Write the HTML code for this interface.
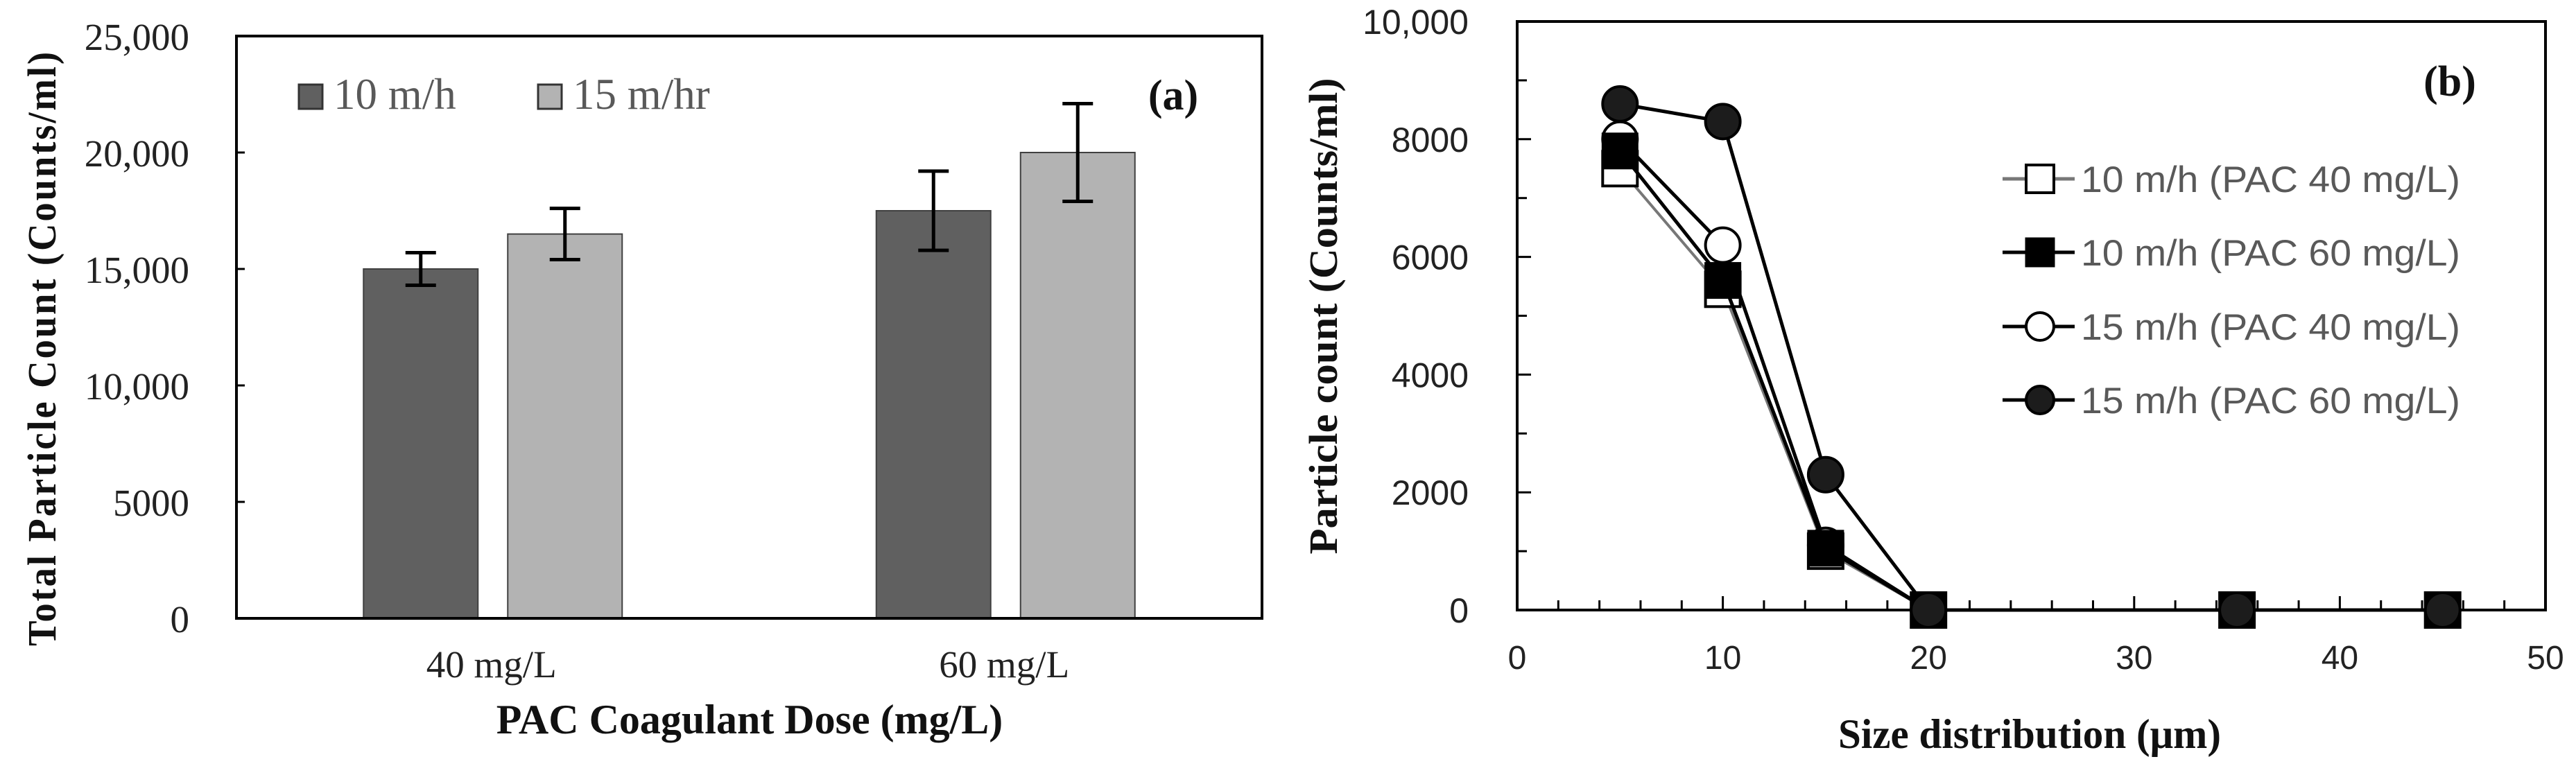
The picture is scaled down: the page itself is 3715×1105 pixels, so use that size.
<!DOCTYPE html>
<html><head><meta charset="utf-8"><style>
html,body{margin:0;padding:0;background:#fff;}
svg{display:block;}
</style></head><body>
<svg id="fig" width="3715" height="1105" viewBox="0 0 3715 1105" xmlns="http://www.w3.org/2000/svg">
<rect width="3715" height="1105" fill="#fff"/>
<g id="chartA"></g>
<g id="chartB"></g>
</svg>
<script>
// ---- Chart (a) data ----
const catsA = ["40 mg/L", "60 mg/L"];
const seriesNamesA = ["10 m/h", "15 m/hr"];
const vals10 = [15000, 17500];
const vals15 = [16500, 20000];
const err10 = [700, 1700];
const err15 = [1100, 2100];
const yTicksA = [0, 5000, 10000, 15000, 20000, 25000];
const yTickLabelsA = ["0", "5000", "10,000", "15,000", "20,000", "25,000"];

// ---- Chart (b) data ----
const xB = [5, 10, 15, 20, 35, 45];
const s1040 = [7500, 5450, 1000, 0, 0, 0];
const s1060 = [7800, 5600, 1050, 0, 0, 0];
const s1540 = [8000, 6200, 1100, 0, 0, 0];
const s1560 = [8600, 8300, 2300, 0, 0, 0];
const seriesNamesB = ["10 m/h (PAC 40 mg/L)", "10 m/h (PAC 60 mg/L)", "15 m/h (PAC 40 mg/L)", "15 m/h (PAC 60 mg/L)"];
const xTicksB = [0, 10, 20, 30, 40, 50];
const yTicksB = [0, 2000, 4000, 6000, 8000, 10000];
const yTickLabelsB = ["0", "2000", "4000", "6000", "8000", "10,000"];

const NS = "http://www.w3.org/2000/svg";
function mk(parent, tag, attrs, text) {
  const e = document.createElementNS(NS, tag);
  for (const k in attrs) e.setAttribute(k, attrs[k]);
  if (text !== undefined) e.textContent = text;
  parent.appendChild(e);
  return e;
}

// ===== Chart A =====
(function () {
  const g = document.getElementById("chartA");
  const L = 341, R = 1820, T = 52, B = 892;
  const y = v => B - v / 25000 * (B - T);
  const xc = i => L + (R - L) * (i + 0.5) / catsA.length;
  const serif = '"Liberation Serif", serif';
  // bars
  const bw = 165, off = 104;
  const colors = ["#606060", "#b3b3b3"];
  const data = [vals10, vals15], errs = [err10, err15];
  for (let s = 0; s < 2; s++) {
    for (let i = 0; i < catsA.length; i++) {
      const cx = xc(i) + (s === 0 ? -off : off);
      const v = data[s][i];
      const r = mk(g, "rect", {x: cx - bw / 2, y: y(v), width: bw, height: B - y(v), fill: colors[s], stroke: "#404040", "stroke-width": 2});
      
      
    }
  }
  // error bars
  for (let s = 0; s < 2; s++) {
    for (let i = 0; i < catsA.length; i++) {
      const cx = xc(i) + (s === 0 ? -off : off);
      const v = data[s][i], e = errs[s][i];
      const eg = mk(g, "g", {stroke: "#000", "stroke-width": 5, fill: "none"});
      
      
      mk(eg, "line", {x1: cx, x2: cx, y1: y(v + e), y2: y(v - e)});
      mk(eg, "line", {x1: cx - 22, x2: cx + 22, y1: y(v + e), y2: y(v + e)});
      mk(eg, "line", {x1: cx - 22, x2: cx + 22, y1: y(v - e), y2: y(v - e)});
    }
  }
  // frame
  const fr = mk(g, "rect", {x: L, y: T, width: R - L, height: B - T, fill: "none", stroke: "#000", "stroke-width": 4});
  
  
  // y ticks
  for (let i = 0; i < yTicksA.length; i++) {
    const yy = y(yTicksA[i]);
    mk(g, "line", {x1: L, x2: L + 12, y1: yy, y2: yy, stroke: "#000", "stroke-width": 3});
    const t = mk(g, "text", {x: 273, y: yy + 20, "text-anchor": "end", "font-family": serif, "font-size": 55, fill: "#222"}, yTickLabelsA[i]);
    
    
  }
  // x labels
  for (let i = 0; i < catsA.length; i++) {
    const t = mk(g, "text", {x: xc(i) - 2, y: 977, "text-anchor": "middle", "font-family": serif, "font-size": 55, fill: "#222"}, catsA[i]);
    
    
  }
  // titles
  const xt = mk(g, "text", {x: 1081, y: 1058, "text-anchor": "middle", "font-family": serif, "font-size": 60, "font-weight": "bold", fill: "#111"}, "PAC Coagulant Dose (mg/L)");
  
  
  const yt = mk(g, "text", {x: 0, y: 0, transform: "translate(80,502) rotate(-90)", "text-anchor": "middle", "font-family": serif, "font-size": 58, "font-weight": "bold", fill: "#111", textLength: 860, lengthAdjust: "spacingAndGlyphs", "letter-spacing": 3}, "Total Particle Count (Counts/ml)");
  
  
  // legend
  const lx = [431, 776];
  for (let s = 0; s < 2; s++) {
    const lg = mk(g, "g", {});
    
    
    mk(lg, "rect", {x: lx[s], y: 122, width: 34, height: 35, fill: colors[s], stroke: "#333", "stroke-width": 3});
    mk(lg, "text", {x: lx[s] + 50, y: 157, "font-family": serif, "font-size": 63, fill: "#595959"}, seriesNamesA[s]);
  }
  const pa = mk(g, "text", {x: 1692, y: 158, "text-anchor": "middle", "font-family": serif, "font-size": 62, "font-weight": "bold", fill: "#111"}, "(a)");
  
  
})();

// ===== Chart B =====
(function () {
  const g = document.getElementById("chartB");
  const L = 2188, R = 3671, T = 31, B = 880;
  const x = v => L + v / 50 * (R - L);
  const y = v => B - v / 10000 * (B - T);
  const sans = '"Liberation Sans", sans-serif';
  const serif = '"Liberation Serif", serif';
  const fr = mk(g, "rect", {x: L, y: T, width: R - L, height: B - T, fill: "none", stroke: "#000", "stroke-width": 4});
  
  
  // minor/major ticks
  for (let v = 0; v <= 10000; v += 1000) {
    const major = v % 2000 === 0;
    mk(g, "line", {x1: L, x2: L + (major ? 20 : 14), y1: y(v), y2: y(v), stroke: "#000", "stroke-width": 3});
  }
  for (let v = 2; v < 50; v += 2) {
    const major = v % 10 === 0;
    mk(g, "line", {x1: x(v), x2: x(v), y1: B, y2: B - (major ? 20 : 14), stroke: "#000", "stroke-width": 3});
  }
  for (let i = 0; i < yTicksB.length; i++) {
    const t = mk(g, "text", {x: 2118, y: y(yTicksB[i]) + 18, "text-anchor": "end", "font-family": sans, "font-size": 50, fill: "#222"}, yTickLabelsB[i]);
    
    
  }
  for (let i = 0; i < xTicksB.length; i++) {
    const t = mk(g, "text", {x: x(xTicksB[i]), y: 965, "text-anchor": "middle", "font-family": sans, "font-size": 48, fill: "#222"}, String(xTicksB[i]));
    
    
  }
  const series = [s1040, s1540, s1060, s1560];
  const names = [seriesNamesB[0], seriesNamesB[2], seriesNamesB[1], seriesNamesB[3]];
  const kinds = ["osq", "oci", "fsq", "fci"];
  const lineCol = {osq: "#777", oci: "#000", fsq: "#000", fci: "#000"};
  function marker(parent, kind, cx, cy, r) {
    if (kind === "osq") return mk(parent, "rect", {x: cx - r, y: cy - r, width: 2 * r, height: 2 * r, fill: "#fff", stroke: "#000", "stroke-width": 4});
    if (kind === "fsq") return mk(parent, "rect", {x: cx - r, y: cy - r, width: 2 * r, height: 2 * r, fill: "#000", stroke: "#000", "stroke-width": 3});
    if (kind === "oci") return mk(parent, "circle", {cx: cx, cy: cy, r: r, fill: "#fff", stroke: "#000", "stroke-width": 4});
    return mk(parent, "circle", {cx: cx, cy: cy, r: r, fill: "#1c1c1c", stroke: "#000", "stroke-width": 4});
  }
  for (let s = 0; s < series.length; s++) {
    const sg = mk(g, "g", {});
    
    
    const pts = xB.map((v, i) => x(v) + "," + y(series[s][i])).join(" ");
    const pl = mk(sg, "polyline", {points: pts, fill: "none", stroke: lineCol[kinds[s]], "stroke-width": kinds[s] === "osq" ? 4 : 5});
    
    
    for (let i = 0; i < xB.length; i++) {
      const m = marker(sg, kinds[s], x(xB[i]), y(series[s][i]), 25);
      
      
    }
  }
  // legend
  const legKinds = ["osq", "fsq", "oci", "fci"];
  const legY = [258, 364, 471, 577];
  for (let i = 0; i < 4; i++) {
    const lg = mk(g, "g", {});
    
    
    mk(lg, "line", {x1: 2888, x2: 2992, y1: legY[i], y2: legY[i], stroke: lineCol[legKinds[i]], "stroke-width": 5});
    marker(lg, legKinds[i], 2942, legY[i], 20);
    mk(lg, "text", {x: 3001, y: legY[i] + 19, "font-family": sans, "font-size": 53, fill: "#595959", textLength: 547, lengthAdjust: "spacingAndGlyphs"}, seriesNamesB[i]);
  }
  const pb = mk(g, "text", {x: 3533, y: 138, "text-anchor": "middle", "font-family": serif, "font-size": 62, "font-weight": "bold", fill: "#111"}, "(b)");
  
  
  const xt = mk(g, "text", {x: 2927, y: 1079, "text-anchor": "middle", "font-family": serif, "font-size": 60, "font-weight": "bold", fill: "#111", textLength: 552, lengthAdjust: "spacingAndGlyphs"}, "Size distribution (μm)");
  
  
  const yt = mk(g, "text", {x: 0, y: 0, transform: "translate(1928,456) rotate(-90)", "text-anchor": "middle", "font-family": serif, "font-size": 58, "font-weight": "bold", fill: "#111", textLength: 687, lengthAdjust: "spacingAndGlyphs"}, "Particle count (Counts/ml)");
  
  
})();
</script>
</body></html>
